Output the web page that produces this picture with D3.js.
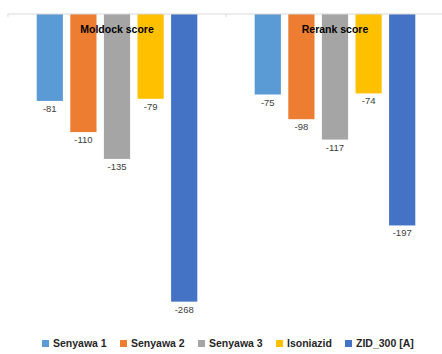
<!DOCTYPE html>
<html>
<head>
<meta charset="utf-8">
<script src="https://cdn.jsdelivr.net/npm/d3@7/dist/d3.min.js"></script>
<style>
  body { margin: 0; background: #fff; }
  svg { display: block; font-family: "Liberation Sans", Arial, sans-serif; }
</style>
</head>
<body>
<div id="chart"></div>
<script>
// data
var groups = ["Moldock score", "Rerank score"];
var seriesNames = ["Senyawa 1", "Senyawa 2", "Senyawa 3", "Isoniazid", "ZID_300 [A]"];
var moldock = [-81, -110, -135, -79, -268];
var rerank = [-75, -98, -117, -74, -197];
var colors = ["#5b9bd5", "#ed7d31", "#a5a5a5", "#ffc000", "#4472c4"];

var w = 442, h = 354;

var rows = [
    { group: groups[0], vals: moldock },
    { group: groups[1], vals: rerank }
];

var svg = d3.select("#chart").append("svg")
    .attr("width", w)
    .attr("height", h);

// setup x (groups, then series within a group)
var x0 = d3.scaleBand().domain(groups).range([8, 444]);
var x1 = d3.scaleBand().domain(seriesNames)
    .range([25, x0.bandwidth() - 25])
    .paddingInner(0.22)
    .paddingOuter(0.11);

// setup y
var y = d3.scaleLinear().domain([0, -300]).range([14, 336]);

// bars
var g = svg.selectAll(".grp")
    .data(rows)
    .enter().append("g")
    .attr("class", "grp")
    .attr("transform", function (d) { return "translate(" + x0(d.group) + ",0)"; });

var bars = g.selectAll(".bar")
    .data(function (d) {
        return d.vals.map(function (v, i) { return { name: seriesNames[i], v: v, c: colors[i] }; });
    })
    .enter();

bars.append("rect")
    .attr("class", "bar")
    .attr("x", function (d) { return x1(d.name); })
    .attr("y", y(0))
    .attr("width", x1.bandwidth())
    .attr("height", function (d) { return y(d.v) - y(0); })
    .style("fill", function (d) { return d.c; });

bars.append("text")
    .attr("x", function (d) { return x1(d.name) + x1.bandwidth() / 2; })
    .attr("y", function (d) { return y(d.v) + 11; })
    .attr("text-anchor", "middle")
    .style("font-size", "9.5px")
    .style("fill", "#404040")
    .text(function (d) { return d.v; });

// zero line with category ticks
svg.append("line")
    .attr("x1", 8).attr("x2", w)
    .attr("y1", y(0)).attr("y2", y(0))
    .style("stroke", "#d9d9d9");

svg.selectAll(".tick")
    .data([8, x0(groups[1])])
    .enter().append("line")
    .attr("x1", function (d) { return d; }).attr("x2", function (d) { return d; })
    .attr("y1", y(0)).attr("y2", y(0) + 3)
    .style("stroke", "#d9d9d9");

// group titles
svg.selectAll(".gtitle")
    .data(groups)
    .enter().append("text")
    .attr("x", function (d) { return x0(d) + x0.bandwidth() / 2; })
    .attr("y", 33)
    .attr("text-anchor", "middle")
    .style("font-size", "10.5px")
    .style("font-weight", "bold")
    .style("fill", "#000")
    .text(function (d) { return d; });

// legend
var legX = [42, 120, 198, 276, 345];
var leg = svg.selectAll(".leg")
    .data(seriesNames)
    .enter().append("g")
    .attr("transform", function (d, i) { return "translate(" + legX[i] + ",347)"; });

leg.append("rect")
    .attr("x", 0).attr("y", -7)
    .attr("width", 7).attr("height", 7)
    .style("fill", function (d, i) { return colors[i]; });

leg.append("text")
    .attr("x", 11)
    .attr("y", 0)
    .style("font-size", "10.5px")
    .style("font-weight", "bold")
    .style("fill", "#262626")
    .text(function (d) { return d; });
</script>
</body>
</html>
